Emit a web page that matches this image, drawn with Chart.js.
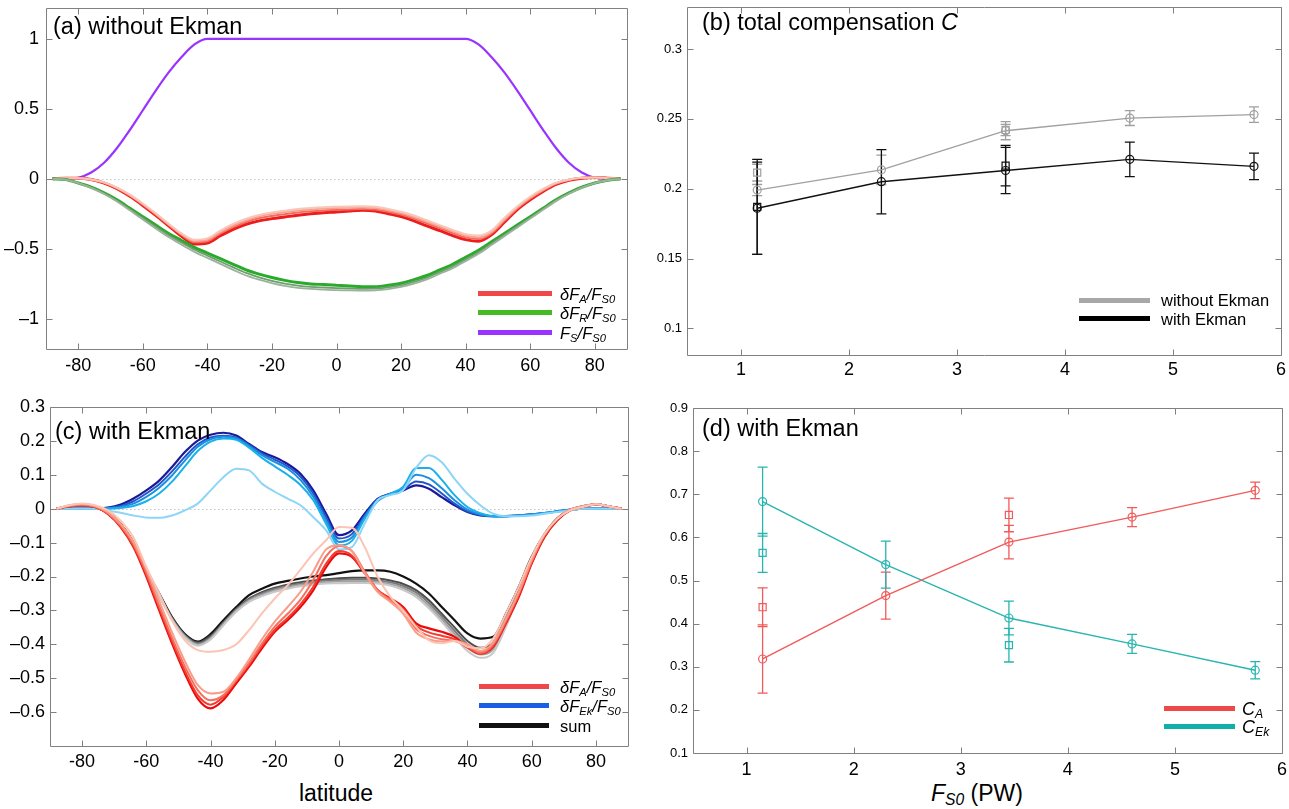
<!DOCTYPE html>
<html lang="en">
<head>
<meta charset="UTF-8">
<title>Compensation with and without Ekman transport</title>
<script src="https://cdn.jsdelivr.net/npm/chart.js"></script>
<style>
  body { margin: 0; background: #fff; width: 1289px; height: 809px; position: relative; overflow: hidden;
         font-family: 'Liberation Sans', Arial, Helvetica, sans-serif; color: #000; }
  canvas { position: absolute; }
  .title { position: absolute; font-size: 23.5px; line-height: 23.5px; white-space: nowrap; }
  .swatch { position: absolute; height: 5px; }
  .ltext { position: absolute; font-size: 16.5px; line-height: 20px; white-space: nowrap; }
  .ltext i sub, .axlabel i sub { font-size: 0.68em; vertical-align: -0.25em; }
  .axlabel { position: absolute; font-size: 23px; line-height: 23px; white-space: nowrap; transform: translateX(-50%); }
</style>
</head>
<body>
<canvas id="chartA" width="640" height="390" style="left:0;top:0"></canvas>
<canvas id="chartB" width="649" height="390" style="left:640px;top:0"></canvas>
<canvas id="chartC" width="640" height="380" style="left:0;top:395px"></canvas>
<canvas id="chartD" width="649" height="380" style="left:640px;top:395px"></canvas>

<div class="title" style="left:53px;top:15px">(a) without Ekman</div>
<div class="title" style="left:702px;top:11px">(b) total compensation <i>C</i></div>
<div class="title" style="left:55px;top:420px">(c) with Ekman</div>
<div class="title" style="left:702px;top:417px">(d) with Ekman</div>

<!-- legend (a) -->
<div class="swatch" style="left:478px;top:291px;width:74px;background:#f04848"></div>
<div class="swatch" style="left:478px;top:310px;width:74px;background:#44bb22"></div>
<div class="swatch" style="left:478px;top:330px;width:74px;background:#9933ff"></div>
<div class="ltext" style="left:560px;top:284px"><i>δF<sub>A</sub>/F<sub>S0</sub></i></div>
<div class="ltext" style="left:560px;top:303px"><i>δF<sub>R</sub>/F<sub>S0</sub></i></div>
<div class="ltext" style="left:560px;top:323px"><i>F<sub>S</sub>/F<sub>S0</sub></i></div>

<!-- legend (b) -->
<div class="swatch" style="left:1079px;top:298px;width:71px;background:#a8a8a8"></div>
<div class="swatch" style="left:1079px;top:316px;width:71px;background:#000"></div>
<div class="ltext" style="left:1161px;top:290px">without Ekman</div>
<div class="ltext" style="left:1161px;top:309px">with Ekman</div>

<!-- legend (c) -->
<div class="swatch" style="left:479px;top:684px;width:70px;background:#f04848"></div>
<div class="swatch" style="left:479px;top:703px;width:70px;background:#1a5ee8"></div>
<div class="swatch" style="left:479px;top:723px;width:70px;background:#111"></div>
<div class="ltext" style="left:560px;top:677px"><i>δF<sub>A</sub>/F<sub>S0</sub></i></div>
<div class="ltext" style="left:560px;top:696px"><i>δF<sub>Ek</sub>/F<sub>S0</sub></i></div>
<div class="ltext" style="left:560px;top:716px">sum</div>

<!-- legend (d) -->
<div class="swatch" style="left:1164px;top:706px;width:71px;background:#ee4848"></div>
<div class="swatch" style="left:1164px;top:724px;width:71px;background:#10b0a8"></div>
<div class="ltext" style="left:1242px;top:699px;font-size:18px"><i>C<sub>A</sub></i></div>
<div class="ltext" style="left:1242px;top:717px;font-size:18px"><i>C<sub>Ek</sub></i></div>

<div class="axlabel" style="left:336px;top:782px">latitude</div>
<div class="axlabel" style="left:977px;top:782px"><i>F<sub>S0</sub></i> (PW)</div>

<script>
// ---------- data ----------
const lat = [-88,-84,-80,-76,-72,-68,-64,-60,-56,-52,-48,-44,-40,-36,-32,-28,-24,-20,-16,-12,-8,-4,0,4,8,12,16,20,24,28,32,36,40,44,48,52,56,60,64,68,72,76,80,84,88];
const latTicks = [-80, -60, -40, -20, 0, 20, 40, 60, 80];

// (a) without Ekman
const aYTicks = [-1, -0.5, 0, 0.5, 1];
const aFS = [0, 0.001, 0.008, 0.045, 0.115, 0.22, 0.35, 0.49, 0.63, 0.76, 0.87, 0.96, 1, 1, 1, 1, 1, 1, 1, 1, 1, 1, 1, 1, 1, 1, 1, 1, 1, 1, 1, 1, 1, 0.96, 0.87, 0.76, 0.63, 0.49, 0.35, 0.22, 0.115, 0.045, 0.008, 0.001, 0];
const aFA1 = [0, 0.005, 0.005, -0.004, -0.025, -0.062, -0.113, -0.176, -0.246, -0.32, -0.39, -0.435, -0.425, -0.37, -0.322, -0.285, -0.258, -0.24, -0.227, -0.216, -0.208, -0.202, -0.199, -0.197, -0.196, -0.2, -0.215, -0.235, -0.262, -0.296, -0.33, -0.365, -0.395, -0.405, -0.37, -0.28, -0.198, -0.128, -0.072, -0.028, -0.004, 0.008, 0.01, 0.005, 0];
const aFA2 = [0, 0.005, 0.005, -0.004, -0.026, -0.064, -0.116, -0.18, -0.25, -0.325, -0.395, -0.443, -0.435, -0.38, -0.333, -0.296, -0.268, -0.25, -0.237, -0.226, -0.218, -0.212, -0.208, -0.205, -0.204, -0.208, -0.224, -0.244, -0.272, -0.306, -0.34, -0.375, -0.405, -0.418, -0.38, -0.29, -0.205, -0.135, -0.078, -0.032, -0.006, 0.007, 0.01, 0.005, 0];
const aFA3 = [0, 0.005, 0.005, -0.005, -0.028, -0.067, -0.12, -0.185, -0.255, -0.33, -0.40, -0.452, -0.445, -0.39, -0.345, -0.308, -0.282, -0.265, -0.252, -0.24, -0.232, -0.226, -0.222, -0.218, -0.215, -0.219, -0.235, -0.255, -0.284, -0.318, -0.352, -0.388, -0.418, -0.43, -0.39, -0.30, -0.212, -0.142, -0.084, -0.036, -0.008, 0.006, 0.01, 0.005, 0];
const aFA4 = [0, 0.005, 0.005, -0.005, -0.03, -0.07, -0.125, -0.19, -0.26, -0.335, -0.41, -0.465, -0.458, -0.406, -0.36, -0.324, -0.30, -0.284, -0.272, -0.26, -0.25, -0.242, -0.237, -0.23, -0.225, -0.23, -0.249, -0.27, -0.30, -0.336, -0.37, -0.406, -0.434, -0.445, -0.40, -0.31, -0.22, -0.15, -0.09, -0.04, -0.01, 0.005, 0.01, 0.005, 0];
const aFR1 = [0, -0.005, -0.03, -0.064, -0.108, -0.162, -0.225, -0.29, -0.354, -0.416, -0.47, -0.522, -0.565, -0.607, -0.65, -0.69, -0.72, -0.745, -0.765, -0.778, -0.786, -0.791, -0.795, -0.797, -0.798, -0.796, -0.787, -0.772, -0.748, -0.718, -0.678, -0.638, -0.588, -0.535, -0.473, -0.41, -0.347, -0.284, -0.221, -0.159, -0.106, -0.064, -0.031, -0.01, 0];
const aFR2 = [0, -0.005, -0.03, -0.062, -0.104, -0.156, -0.218, -0.28, -0.342, -0.403, -0.455, -0.506, -0.548, -0.59, -0.632, -0.672, -0.703, -0.728, -0.748, -0.762, -0.771, -0.776, -0.78, -0.783, -0.785, -0.784, -0.775, -0.76, -0.736, -0.706, -0.666, -0.626, -0.576, -0.524, -0.463, -0.401, -0.34, -0.278, -0.216, -0.155, -0.103, -0.062, -0.03, -0.01, 0];
const aFR3 = [0, -0.005, -0.03, -0.06, -0.10, -0.15, -0.21, -0.27, -0.33, -0.39, -0.44, -0.49, -0.53, -0.57, -0.61, -0.65, -0.68, -0.705, -0.725, -0.74, -0.75, -0.755, -0.76, -0.765, -0.77, -0.77, -0.76, -0.745, -0.72, -0.69, -0.65, -0.61, -0.56, -0.51, -0.45, -0.39, -0.33, -0.27, -0.21, -0.15, -0.10, -0.06, -0.03, -0.01, 0];

// (c) with Ekman
const cYTicks = [-0.6, -0.5, -0.4, -0.3, -0.2, -0.1, 0, 0.1, 0.2, 0.3];
const cFA1 = [0, 0.01, 0.015, 0.01, -0.005, -0.035, -0.085, -0.172, -0.25, -0.33, -0.388, -0.417, -0.422, -0.417, -0.40, -0.358, -0.309, -0.265, -0.226, -0.18, -0.132, -0.093, -0.054, -0.056, -0.113, -0.2, -0.26, -0.3, -0.348, -0.388, -0.397, -0.39, -0.407, -0.412, -0.383, -0.31, -0.23, -0.142, -0.074, -0.03, -0.005, 0.005, 0.013, 0.007, 0];
const cFA2 = [0, 0.01, 0.014, 0.008, -0.01, -0.045, -0.098, -0.178, -0.272, -0.365, -0.45, -0.52, -0.545, -0.54, -0.5, -0.445, -0.385, -0.333, -0.29, -0.245, -0.185, -0.12, -0.108, -0.125, -0.19, -0.245, -0.275, -0.31, -0.365, -0.385, -0.392, -0.39, -0.4, -0.42, -0.395, -0.325, -0.245, -0.15, -0.075, -0.028, -0.002, 0.008, 0.013, 0.007, 0];
const cFA3 = [0, 0.008, 0.012, 0.006, -0.013, -0.05, -0.105, -0.188, -0.285, -0.38, -0.465, -0.535, -0.565, -0.55, -0.505, -0.455, -0.398, -0.348, -0.31, -0.268, -0.21, -0.14, -0.11, -0.125, -0.185, -0.24, -0.27, -0.3, -0.355, -0.375, -0.385, -0.39, -0.405, -0.425, -0.4, -0.33, -0.25, -0.155, -0.078, -0.03, -0.003, 0.007, 0.013, 0.007, 0];
const cFA4 = [0, 0.007, 0.01, 0.005, -0.015, -0.052, -0.11, -0.195, -0.293, -0.39, -0.478, -0.55, -0.578, -0.555, -0.508, -0.46, -0.405, -0.357, -0.322, -0.282, -0.23, -0.162, -0.125, -0.138, -0.19, -0.24, -0.268, -0.295, -0.345, -0.365, -0.375, -0.385, -0.41, -0.428, -0.405, -0.335, -0.255, -0.158, -0.08, -0.032, -0.004, 0.006, 0.013, 0.007, 0];
const cFA5 = [0, 0.007, 0.01, 0.005, -0.015, -0.054, -0.113, -0.2, -0.3, -0.397, -0.486, -0.56, -0.589, -0.564, -0.515, -0.466, -0.412, -0.363, -0.329, -0.29, -0.24, -0.172, -0.132, -0.142, -0.19, -0.24, -0.265, -0.29, -0.338, -0.353, -0.363, -0.378, -0.407, -0.427, -0.407, -0.338, -0.26, -0.162, -0.083, -0.034, -0.005, 0.005, 0.013, 0.007, 0];
const cFEk1 = [0, 0, 0, 0, -0.005, -0.012, -0.02, -0.026, -0.027, -0.02, -0.005, 0.015, 0.054, 0.093, 0.118, 0.113, 0.074, 0.05, 0.03, 0.01, -0.025, -0.064, -0.12, -0.113, -0.044, 0.025, 0.04, 0.055, 0.12, 0.158, 0.137, 0.088, 0.044, 0.01, -0.015, -0.022, -0.022, -0.02, -0.015, -0.01, -0.005, 0, 0, 0, 0];
const cFEk2 = [0, 0, 0, 0, 0, 0.002, 0.008, 0.022, 0.045, 0.08, 0.125, 0.17, 0.198, 0.207, 0.203, 0.18, 0.15, 0.125, 0.1, 0.07, 0.025, -0.045, -0.108, -0.095, -0.03, 0.022, 0.044, 0.065, 0.12, 0.12, 0.085, 0.04, 0.005, -0.013, -0.022, -0.023, -0.021, -0.018, -0.013, -0.008, -0.003, 0, 0, 0, 0];
const cFEk3 = [0, 0, 0, 0, 0.001, 0.005, 0.015, 0.035, 0.062, 0.098, 0.142, 0.183, 0.205, 0.212, 0.207, 0.185, 0.158, 0.138, 0.118, 0.085, 0.035, -0.035, -0.098, -0.085, -0.025, 0.025, 0.044, 0.06, 0.1, 0.09, 0.06, 0.025, -0.003, -0.017, -0.022, -0.022, -0.02, -0.017, -0.013, -0.008, -0.003, 0, 0, 0, 0];
const cFEk4 = [0, 0, 0, 0, 0.002, 0.008, 0.022, 0.045, 0.072, 0.11, 0.153, 0.19, 0.21, 0.215, 0.21, 0.188, 0.163, 0.145, 0.125, 0.095, 0.045, -0.025, -0.088, -0.075, -0.02, 0.027, 0.044, 0.056, 0.08, 0.072, 0.045, 0.015, -0.008, -0.019, -0.022, -0.022, -0.02, -0.017, -0.013, -0.008, -0.003, 0, 0, 0, 0];
const cFEk5 = [0, 0, 0, 0, 0.003, 0.012, 0.03, 0.054, 0.083, 0.123, 0.167, 0.201, 0.218, 0.224, 0.216, 0.191, 0.167, 0.152, 0.132, 0.103, 0.054, -0.015, -0.078, -0.064, -0.015, 0.029, 0.044, 0.054, 0.069, 0.059, 0.034, 0.01, -0.01, -0.02, -0.022, -0.022, -0.02, -0.017, -0.013, -0.008, -0.003, 0, 0, 0, 0];
const cSum1 = [0, 0.007, 0.01, 0.005, -0.012, -0.048, -0.106, -0.186, -0.258, -0.328, -0.38, -0.404, -0.386, -0.344, -0.304, -0.275, -0.258, -0.245, -0.236, -0.229, -0.224, -0.221, -0.22, -0.219, -0.219, -0.221, -0.227, -0.24, -0.26, -0.294, -0.334, -0.378, -0.42, -0.44, -0.425, -0.348, -0.255, -0.16, -0.085, -0.033, -0.005, 0.007, 0.013, 0.007, 0];
const cSum2 = [0, 0.007, 0.01, 0.005, -0.012, -0.047, -0.104, -0.184, -0.256, -0.326, -0.377, -0.401, -0.383, -0.341, -0.301, -0.271, -0.254, -0.241, -0.232, -0.225, -0.22, -0.217, -0.215, -0.214, -0.214, -0.216, -0.222, -0.234, -0.254, -0.286, -0.326, -0.369, -0.41, -0.43, -0.415, -0.34, -0.25, -0.156, -0.082, -0.032, -0.004, 0.007, 0.013, 0.007, 0];
const cSum3 = [0, 0.007, 0.01, 0.005, -0.012, -0.046, -0.102, -0.182, -0.254, -0.324, -0.375, -0.398, -0.38, -0.338, -0.298, -0.268, -0.25, -0.237, -0.228, -0.221, -0.216, -0.212, -0.21, -0.209, -0.209, -0.211, -0.217, -0.228, -0.247, -0.278, -0.318, -0.36, -0.4, -0.42, -0.405, -0.332, -0.245, -0.153, -0.08, -0.031, -0.004, 0.007, 0.013, 0.007, 0];
const cSum4 = [0, 0.007, 0.01, 0.005, -0.012, -0.045, -0.1, -0.18, -0.252, -0.322, -0.372, -0.395, -0.375, -0.335, -0.295, -0.265, -0.246, -0.233, -0.224, -0.217, -0.212, -0.208, -0.205, -0.204, -0.204, -0.206, -0.212, -0.222, -0.24, -0.27, -0.31, -0.35, -0.39, -0.41, -0.395, -0.325, -0.24, -0.15, -0.078, -0.03, -0.004, 0.007, 0.013, 0.007, 0];
const cSum5 = [0, 0.007, 0.01, 0.005, -0.012, -0.045, -0.1, -0.18, -0.25, -0.32, -0.37, -0.392, -0.37, -0.329, -0.29, -0.255, -0.236, -0.221, -0.213, -0.206, -0.2, -0.196, -0.19, -0.184, -0.182, -0.182, -0.186, -0.2, -0.221, -0.25, -0.29, -0.329, -0.368, -0.383, -0.378, -0.31, -0.23, -0.142, -0.075, -0.028, -0.003, 0.007, 0.013, 0.007, 0];

// (b) and (d): forcing amplitude F_S0 (PW)
const fs0 = [1.15, 2.3, 3.45, 4.6, 5.75];
const fs0Sq = [1.15, 3.45];
const pwTicks = [1, 2, 3, 4, 5, 6];
const bYTicks = [0.1, 0.15, 0.2, 0.25, 0.3];
const bNoEk = [0.199, 0.2135, 0.2415, 0.2505, 0.253];
const bNoEkErr = [0.004, 0.0105, 0.0065, 0.0053, 0.0055];
const bNoEkSq = [0.2115, 0.242];
const bNoEkSqErr = [0.006, 0.004];
const bEk = [0.186, 0.205, 0.213, 0.221, 0.216];
const bEkErr = [0.033, 0.023, 0.0165, 0.0123, 0.0095];
const bEkSq = [0.187, 0.2165];
const bEkSqErr = [0.034, 0.0145];

const dYTicks = [0.1, 0.2, 0.3, 0.4, 0.5, 0.6, 0.7, 0.8, 0.9];
const dCA = [0.318, 0.465, 0.589, 0.647, 0.709];
const dCAErr = [0.079, 0.0545, 0.039, 0.022, 0.019];
const dCASq = [0.438, 0.652];
const dCASqErr = [0.045, 0.039];
const dCEk = [0.683, 0.537, 0.413, 0.353, 0.292];
const dCEkErr = [0.08, 0.0545, 0.039, 0.022, 0.02];
const dCEkSq = [0.564, 0.35];
const dCEkSqErr = [0.045, 0.039];

// ---------- helpers ----------
Chart.defaults.font.family = "'Liberation Sans', Arial, Helvetica, sans-serif";
Chart.defaults.color = '#000';

const dash = v => (v < 0 ? '\u2013' + Math.abs(v) : String(v));

function scale(min, max, tickVals, o) {
    return {
        type: 'linear', min: min, max: max,
        grid: { display: false, drawTicks: false },
        border: { display: false },
        afterBuildTicks: s => { s.ticks = tickVals.map(v => ({ value: v })); },
        afterFit: s => {
            if (o.width !== undefined) s.width = o.width;
            if (o.height !== undefined) s.height = o.height;
            s.paddingLeft = s.paddingRight = s.paddingTop = s.paddingBottom = 0;
        },
        ticks: { font: { size: o.size }, color: '#000', padding: o.pad, maxRotation: 0, autoSkip: false,
                 callback: o.fmt || (v => String(v)) }
    };
}

function curve(xs, ys, color, width) {
    return { data: ys.map((v, i) => ({ x: xs[i], y: v })), borderColor: color, borderWidth: width,
             pointRadius: 0, cubicInterpolationMode: 'monotone', fill: false };
}

function marks(xs, ys, errs, color, style, line) {
    return { data: ys.map((v, i) => ({ x: xs[i], y: v })), errors: errs, borderColor: color,
             borderWidth: line ? 1.4 : 0, showLine: !!line, pointStyle: style,
             pointRadius: style === 'rect' ? 5 : 4, pointBorderWidth: 1.2,
             pointBorderColor: color, pointBackgroundColor: 'rgba(0,0,0,0)' };
}

const zeroLine = {
    id: 'zeroLine',
    beforeDatasetsDraw(chart) {
        const { ctx, chartArea: a, scales: { y } } = chart;
        const py = Math.round(y.getPixelForValue(0)) + 0.5;
        ctx.save();
        ctx.strokeStyle = '#c4c4c4';
        ctx.lineWidth = 1;
        ctx.setLineDash([1.5, 2.5]);
        ctx.beginPath(); ctx.moveTo(a.left, py); ctx.lineTo(a.right, py); ctx.stroke();
        ctx.restore();
    }
};

const errorBars = {
    id: 'errorBars',
    beforeDatasetsDraw(chart) {
        const { ctx, scales: { x, y } } = chart;
        chart.data.datasets.forEach(ds => {
            if (!ds.errors) return;
            ctx.save();
            ctx.strokeStyle = ds.borderColor;
            ctx.lineWidth = 1.3;
            ds.data.forEach((p, i) => {
                const px = x.getPixelForValue(p.x);
                const top = y.getPixelForValue(p.y + ds.errors[i]);
                const bot = y.getPixelForValue(p.y - ds.errors[i]);
                ctx.beginPath();
                ctx.moveTo(px, top); ctx.lineTo(px, bot);
                ctx.moveTo(px - 5, top); ctx.lineTo(px + 5, top);
                ctx.moveTo(px - 5, bot); ctx.lineTo(px + 5, bot);
                ctx.stroke();
            });
            ctx.restore();
        });
    }
};

// matlab-like box with inward tick marks on all four sides
const boxTicks = {
    id: 'boxTicks',
    afterDraw(chart) {
        const { ctx, chartArea: a, scales: { x, y } } = chart;
        const L = Math.round(a.left) + 0.5, R = Math.round(a.right) + 0.5;
        const T = Math.round(a.top) + 0.5, B = Math.round(a.bottom) + 0.5;
        ctx.save();
        ctx.strokeStyle = '#808080';
        ctx.lineWidth = 1;
        ctx.beginPath();
        ctx.rect(L, T, R - L, B - T);
        x.ticks.forEach(t => {
            const px = Math.round(x.getPixelForValue(t.value)) + 0.5;
            ctx.moveTo(px, B); ctx.lineTo(px, B - 6);
            ctx.moveTo(px, T); ctx.lineTo(px, T + 6);
        });
        y.ticks.forEach(t => {
            const py = Math.round(y.getPixelForValue(t.value)) + 0.5;
            ctx.moveTo(L, py); ctx.lineTo(L + 6, py);
            ctx.moveTo(R, py); ctx.lineTo(R - 6, py);
        });
        ctx.stroke();
        ctx.restore();
    }
};

function baseOptions(xs, ys, padding) {
    return {
        responsive: false, animation: false, devicePixelRatio: 1, events: [],
        layout: { padding: padding },
        plugins: { legend: { display: false }, tooltip: { enabled: false } },
        scales: { x: xs, y: ys }
    };
}

document.addEventListener('DOMContentLoaded', function () {
    // (a) without Ekman
    new Chart(document.getElementById('chartA'), {
        type: 'line',
        data: { datasets: [
            curve(lat, aFR1, '#9ab39a', 1.8),
            curve(lat, aFR2, '#6f9f6f', 1.8),
            curve(lat, aFR3, '#2aaa2a', 3),
            curve(lat, aFA1, '#f9c6b8', 2),
            curve(lat, aFA2, '#f6a090', 2),
            curve(lat, aFA3, '#f26b5e', 2),
            curve(lat, aFA4, '#ee1c1c', 3),
            curve(lat, aFS, '#9933ff', 2.2)
        ] },
        options: baseOptions(
            scale(-90, 90, latTicks, { height: 41, size: 18, pad: 6 }),
            scale(-1.215, 1.22, aYTicks, { width: 46, size: 18, pad: 7, fmt: dash }),
            { top: 8, right: 13, left: 0, bottom: 0 }),
        plugins: [zeroLine, boxTicks]
    });

    // (b) total compensation C
    new Chart(document.getElementById('chartB'), {
        type: 'line',
        data: { datasets: [
            marks(fs0, bNoEk, bNoEkErr, '#a0a0a0', 'circle', true),
            marks(fs0Sq, bNoEkSq, bNoEkSqErr, '#a0a0a0', 'rect', false),
            marks(fs0, bEk, bEkErr, '#111111', 'circle', true),
            marks(fs0Sq, bEkSq, bEkSqErr, '#111111', 'rect', false)
        ] },
        options: baseOptions(
            scale(0.5, 6, pwTicks, { height: 35, size: 18, pad: 4 }),
            scale(0.081, 0.33, bYTicks, { width: 47, size: 13, pad: 5 }),
            { top: 7, right: 8, left: 0, bottom: 0 }),
        plugins: [errorBars, boxTicks]
    });

    // (c) with Ekman
    new Chart(document.getElementById('chartC'), {
        type: 'line',
        data: { datasets: [
            curve(lat, cFA1, '#fcc4b4', 2),
            curve(lat, cFA2, '#f99c88', 2),
            curve(lat, cFA3, '#f5705e', 2),
            curve(lat, cFA4, '#f23c30', 2),
            curve(lat, cFA5, '#ee0a0a', 2.2),
            curve(lat, cFEk1, '#8dd5f7', 2),
            curve(lat, cFEk2, '#1ab0ec', 2),
            curve(lat, cFEk3, '#1a8fe0', 2),
            curve(lat, cFEk4, '#2255cc', 2),
            curve(lat, cFEk5, '#1a1a99', 2.2),
            curve(lat, cSum1, '#c8c8c8', 2),
            curve(lat, cSum2, '#a3a3a3', 2),
            curve(lat, cSum3, '#7a7a7a', 2),
            curve(lat, cSum4, '#4d4d4d', 2),
            curve(lat, cSum5, '#111111', 2.2)
        ] },
        options: baseOptions(
            scale(-90, 90, latTicks, { height: 29, size: 18, pad: 5 }),
            scale(-0.7, 0.3, cYTicks, { width: 50, size: 18, pad: 5, fmt: dash }),
            { top: 12, right: 12, left: 0, bottom: 0 }),
        plugins: [zeroLine, boxTicks]
    });

    // (d) with Ekman: C_A and C_Ek
    new Chart(document.getElementById('chartD'), {
        type: 'line',
        data: { datasets: [
            marks(fs0, dCA, dCAErr, '#f25a5a', 'circle', true),
            marks(fs0Sq, dCASq, dCASqErr, '#f25a5a', 'rect', false),
            marks(fs0, dCEk, dCEkErr, '#26b5b0', 'circle', true),
            marks(fs0Sq, dCEkSq, dCEkSqErr, '#26b5b0', 'rect', false)
        ] },
        options: baseOptions(
            scale(0.5, 6, pwTicks, { height: 22, size: 18, pad: 6 }),
            scale(0.1, 0.9, dYTicks, { width: 53, size: 13, pad: 5 }),
            { top: 13, right: 7, left: 0, bottom: 0 }),
        plugins: [errorBars, boxTicks]
    });
});
</script>
</body>
</html>
